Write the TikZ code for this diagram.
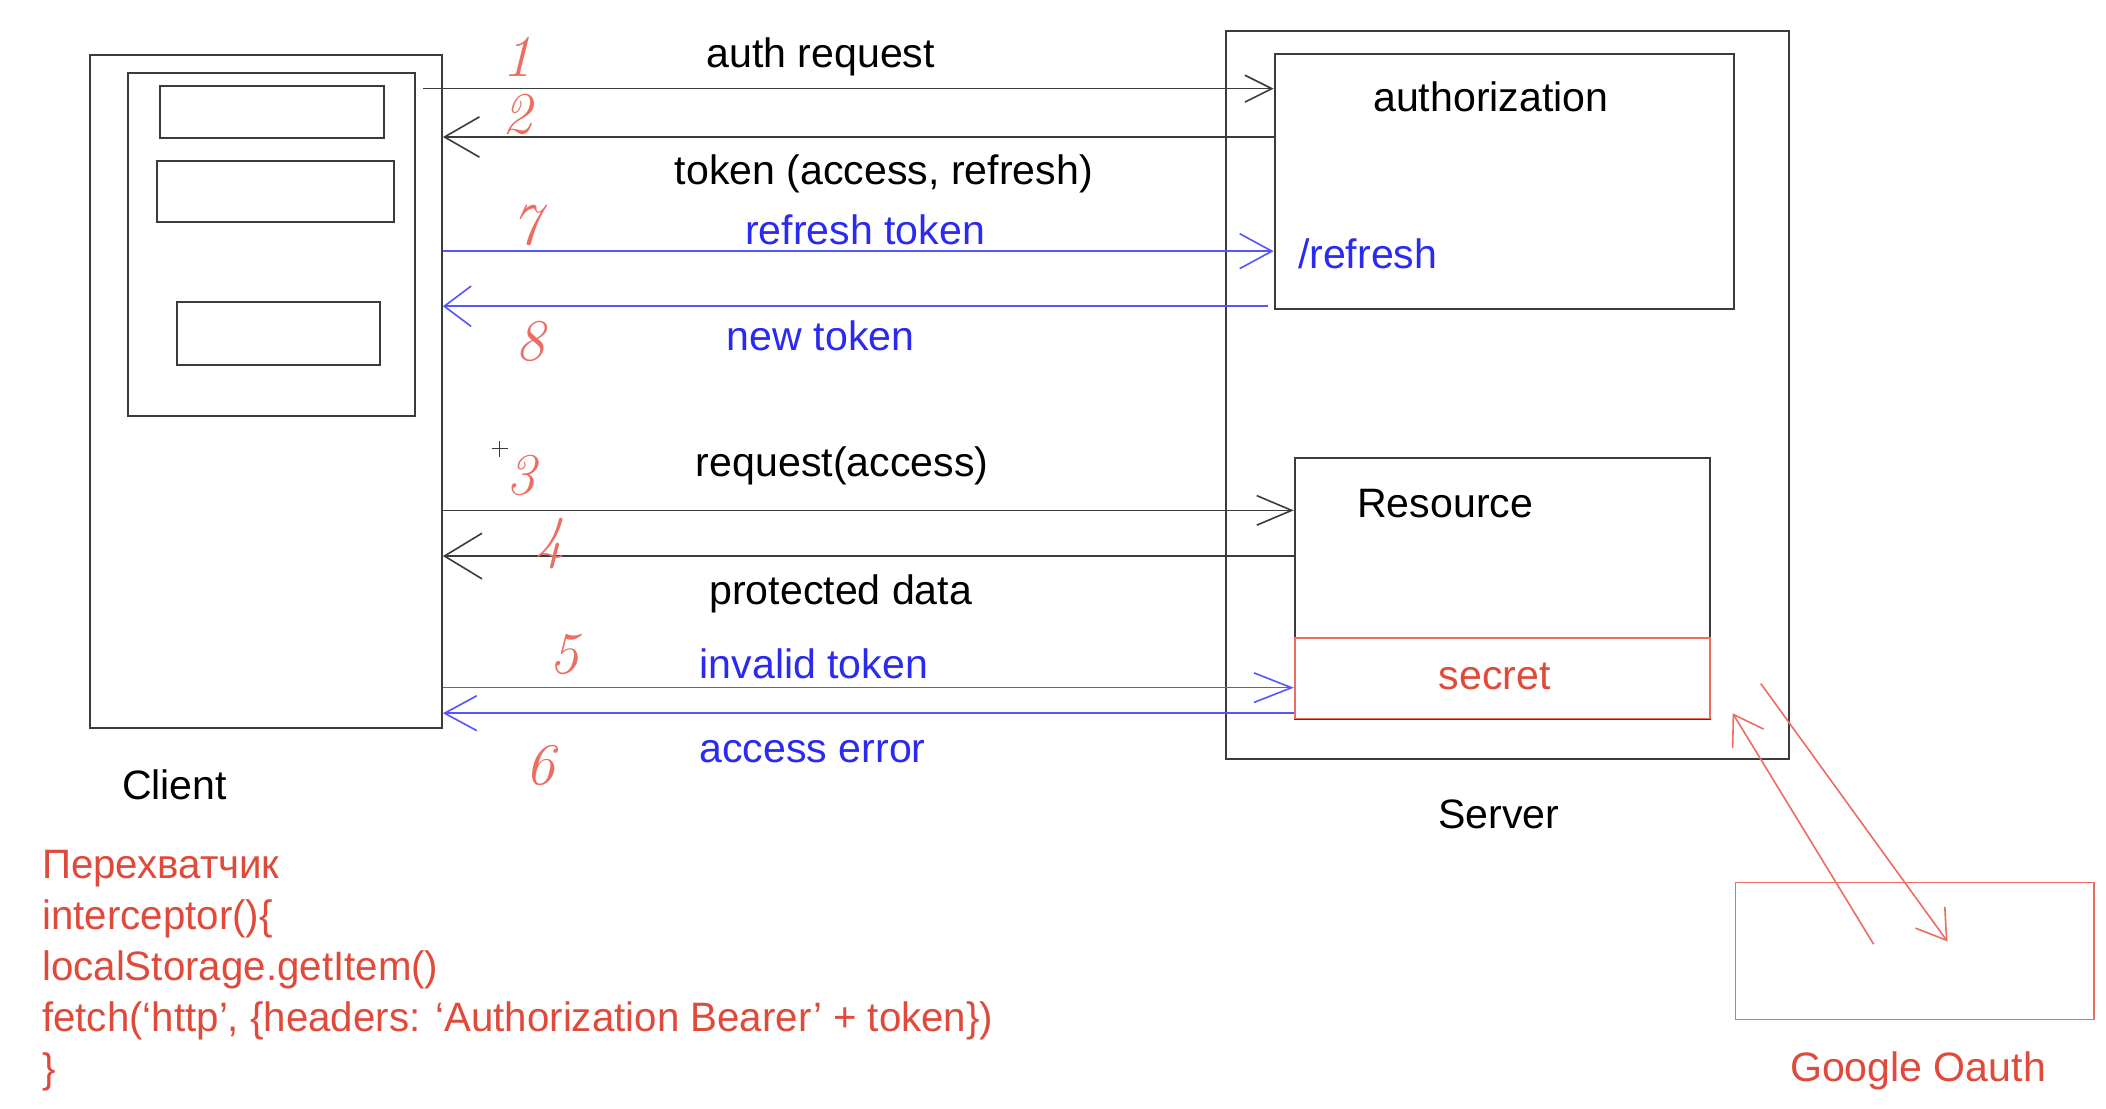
\documentclass[tikz,border=0pt]{standalone}
\usepackage{fontspec}
\setmainfont{Liberation Sans}
\newfontfamily\codefont{Liberation Sans}[FakeStretch=0.98]
\newfontfamily\hand{Latin Modern Roman}
\usetikzlibrary{arrows.meta,fit}
\definecolor{ln}{HTML}{3C3C3C}
\definecolor{bl}{HTML}{5656FF}
\definecolor{blt}{HTML}{2A2AF0}
\definecolor{rd}{HTML}{E04A3A}
\definecolor{rdl}{HTML}{EC6E62}
\begin{document}
\begin{tikzpicture}[x=0.5pt,y=-0.5pt,
  box/.style={draw=ln,line width=0.75pt,rectangle,inner sep=0pt},
  rbox/.style={draw=rdl,line width=0.6pt,rectangle,inner sep=0pt},
  lbl/.style={font=\fontsize{15.3}{18}\selectfont,inner sep=0pt,anchor=base},
  code/.style={font=\codefont\fontsize{15.3}{18}\selectfont,inner sep=0pt,anchor=base west,text=rd},
  num/.style={font=\hand\itshape\fontsize{22}{24}\selectfont,text=rdl,inner sep=0pt},
  arr/.style={draw=ln,line width=0.6pt,-{Straight Barb[length=12pt,width=13pt]}},
  barr/.style={draw=bl,line width=0.6pt,-{Straight Barb[length=12pt,width=13pt]}},
  rarr/.style={draw=rdl,line width=0.6pt,-{Straight Barb[length=10.5pt,width=13.5pt]}}
]
\useasboundingbox (0,0) rectangle (1568,825);
% client
\node[box,fit={(67,41) (329,542)}] (client) {};
\node[box,fit={(95,54) (309,310)}] (inner) {};
\node[box,fit={(119,64) (286,103)}] (boxa) {};
\node[box,fit={(117,120) (293,165)}] (boxb) {};
\node[box,fit={(132,225) (283,272)}] (boxc) {};
\node[lbl] (clientlbl) at (130,595) {Client};
% server
\node[box,fit={(913,23) (1332,565)}] (server) {};
\node[box,fit={(949,40) (1291,230)}] (auth) {};
\node[box,fit={(964,341) (1273,535)}] (res) {};
\node[rbox,fit={(964,475) (1273,535)}] (secret) {};
\node[lbl] (authlbl) at (1110,83) {authorization};
\node[lbl,anchor=base west,text=blt] (refresh) at (966,200) {/refresh};
\node[lbl] (reslbl) at (1076,385) {Resource};
\node[lbl,text=rd] (secretlbl) at (1113,513) {secret};
\node[lbl] (serverlbl) at (1116,617) {Server};
% google
\node[rbox,fit={(1292,657) (1559,759)}] (google) {};
\node[lbl,text=rd] (googlelbl) at (1428,805) {Google Oauth};
% y levels
\coordinate (y1) at (0,66);
\coordinate (y2) at (0,102);
\coordinate (y7) at (0,187);
\coordinate (y8) at (0,228);
\coordinate (y3) at (0,380);
\coordinate (y4) at (0,414);
\coordinate (y5) at (0,512);
\coordinate (y6) at (0,531);
% arrows
\draw[arr,-{Straight Barb[length=10pt,width=10pt]}] ([xshift=2.5pt]inner.east |- y1) -- (auth.west |- y1);
\draw[arr,-{Straight Barb[length=13pt,width=15pt]}] (auth.west |- y2) -- (client.east |- y2);
\draw[barr] (client.east |- y7) -- (auth.west |- y7);
\draw[barr,-{Straight Barb[length=10pt,width=15pt]}] ([xshift=-2pt]auth.west |- y8) -- (client.east |- y8);
\draw[arr,-{Straight Barb[length=13pt,width=11pt]}] (client.east |- y3) -- (res.west |- y3);
\draw[arr,-{Straight Barb[length=14pt,width=17pt]}] (res.west |- y4) -- (client.east |- y4);
\draw[barr,-{Straight Barb[length=14pt,width=11pt]}] (client.east |- y5) -- (res.west |- y5);
\draw[barr] (res.west |- y6) -- (client.east |- y6);
\coordinate (ga) at (1395,703);
\coordinate (gb) at (1450,701);
\coordinate (sa) at (1290,531);
\coordinate (sb) at (1311,509);
\draw[rarr] (ga) -- (sa);
\draw[rarr] (sb) -- (gb);
% arrow labels
\node[lbl] (l1) at (611,50) {auth request};
\node[lbl] (l2) at (658,137) {token (access, refresh)};
\node[lbl,text=blt] (l7) at (644,182) {refresh token};
\node[lbl,text=blt] (l8) at (611,261) {new token};
\node[lbl] (l3) at (627,355) {request(access)};
\node[lbl] (l4) at (626,450) {protected data};
\node[lbl,text=blt] (l5) at (606,505) {invalid token};
\node[lbl,text=blt] (l6) at (605,568) {access error};
% step numbers
\node[num] (n1) at (385,42) {1};
\node[num] (n2) at (385,85) {2};
\node[num] (n7) at (392,168) {7};
\node[num] (n8) at (395,254) {8};
\node[num] (n3) at (388,354) {3};
\node[num] (n4) at (410,405) {4};
\node[num] (n5) at (420,487) {5};
\node[num] (n6) at (402,570) {6};
% cursor
\coordinate (cur) at (372,334);
\draw[ln,line width=0.5pt] ([xshift=-3pt]cur) -- ([xshift=3pt]cur) ([yshift=-3pt]cur) -- ([yshift=3pt]cur);
% code
\node[code] (c1) at (31,654) {Перехватчик};
\node[code] (c2) at (31,692) {interceptor()\{};
\node[code] (c3) at (31,730) {localStorage.getItem()};
\node[code] (c4) at (31,768) {fetch(‘http’, \{headers: ‘Authorization Bearer’ + token\})};
\node[code] (c5) at (31,806) {\}};
\end{tikzpicture}
\end{document}
